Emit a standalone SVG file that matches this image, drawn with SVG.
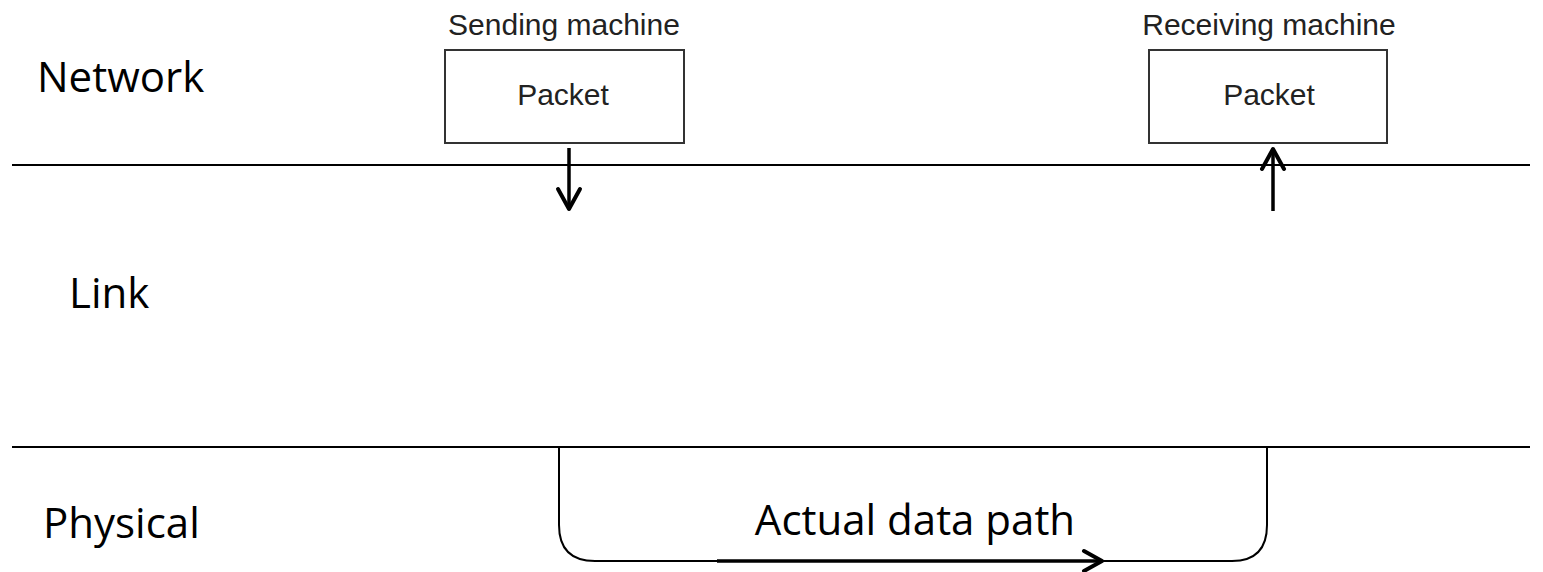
<svg xmlns="http://www.w3.org/2000/svg" width="1543" height="572" viewBox="0 0 1543 572">
<style>
.layer{font-family:"Open Sans","Liberation Sans",sans-serif;font-size:42px;fill:#000}
.small{font-family:"Liberation Sans",Arial,sans-serif;font-size:30px;fill:#222;text-anchor:middle}
.box{fill:#fff;stroke:#333;stroke-width:2}
.rule{stroke:#000;stroke-width:2;fill:none}
.arrow{stroke:#000;stroke-width:3.5;fill:none}
.head{stroke:#000;stroke-width:4;fill:none;stroke-linecap:round;stroke-linejoin:round}
</style>
<rect width="1543" height="572" fill="#fff"/>
<g id="labels">
<text class="layer" x="37" y="92">Network</text>
<text class="layer" x="69" y="308">Link</text>
<text class="layer" x="43" y="538">Physical</text>
</g>
<g id="rules">
<line class="rule" x1="12" y1="165" x2="1530" y2="165"/>
<line class="rule" x1="12" y1="447" x2="1530" y2="447"/>
</g>
<g id="sender">
<text class="small" x="564" y="35">Sending machine</text>
<rect class="box" x="445" y="50" width="239" height="93"/>
<text class="small" x="563" y="105">Packet</text>
</g>
<g id="receiver">
<text class="small" x="1269" y="35">Receiving machine</text>
<rect class="box" x="1149" y="50" width="238" height="93"/>
<text class="small" x="1269" y="105">Packet</text>
</g>
<g id="connectors">
<line class="arrow" x1="569" y1="148" x2="569" y2="208"/>
<polyline class="head" points="558,189 569,209 580,189"/>
<line class="arrow" x1="1273" y1="211" x2="1273" y2="151"/>
<polyline class="head" points="1262,169 1273,149 1284,169"/>
<path class="rule" d="M559,447 V525 Q559,561 595,561 H1232 Q1267,561 1267,525 V447"/>
<line x1="717" y1="561" x2="1100" y2="561" stroke="#000" stroke-width="3.5"/>
<polyline class="head" points="1084,551 1102,561 1084,571"/>
</g>
<text id="path-label" class="layer" x="915" y="535" text-anchor="middle">Actual data path</text>
</svg>
